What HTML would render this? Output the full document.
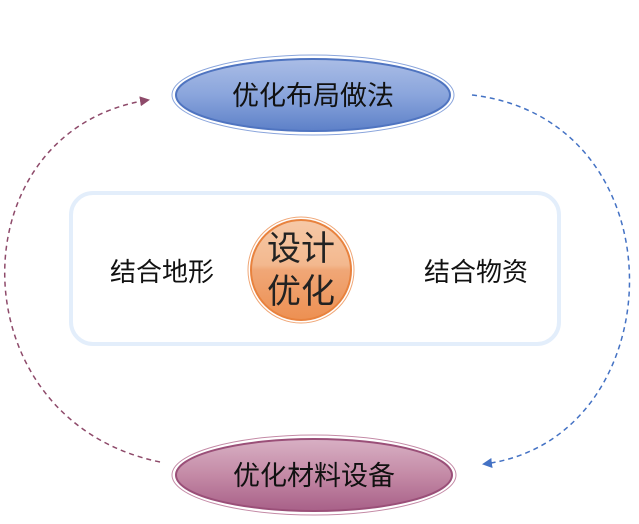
<!DOCTYPE html>
<html><head><meta charset="utf-8"><style>
body{margin:0;background:#fff;}
svg{display:block}
text{font-family:"Liberation Sans","Noto Sans CJK SC",sans-serif;}
</style></head><body>
<svg width="639" height="524" viewBox="0 0 639 524">
<defs>
<linearGradient id="gb" x1="0" y1="0" x2="0" y2="1">
<stop offset="0" stop-color="#aabde6"/><stop offset="0.5" stop-color="#8aa5dc"/><stop offset="1" stop-color="#5d80c8"/></linearGradient>
<linearGradient id="gp" x1="0" y1="0" x2="0" y2="1">
<stop offset="0" stop-color="#d8b0c4"/><stop offset="0.5" stop-color="#c48aa6"/><stop offset="1" stop-color="#a86088"/></linearGradient>
<linearGradient id="go" x1="0" y1="0" x2="0" y2="1">
<stop offset="0" stop-color="#f6c9a8"/><stop offset="0.45" stop-color="#f3b88e"/><stop offset="0.5" stop-color="#f0a777"/><stop offset="1" stop-color="#ed9052"/></linearGradient>
<marker id="ap" markerWidth="10" markerHeight="10" refX="8" refY="5" orient="auto" markerUnits="userSpaceOnUse"><path d="M0,0 L10,5 L0,10 z" fill="#8e4a6a"/></marker>
<marker id="ab" markerWidth="10" markerHeight="10" refX="8" refY="5" orient="auto" markerUnits="userSpaceOnUse"><path d="M0,0 L10,5 L0,10 z" fill="#4472c4"/></marker>
</defs>
<rect x="71" y="193" width="488" height="151" rx="22" fill="#fff" stroke="#e3eefb" stroke-width="4"/>
<path d="M160,462 C-45,420 -45,130 148,100" fill="none" stroke="#8e4a6a" stroke-width="1.5" stroke-dasharray="5,4" marker-end="url(#ap)"/>
<path d="M472,95 C685,120 675,440 484,464" fill="none" stroke="#4472c4" stroke-width="1.5" stroke-dasharray="5,4" marker-end="url(#ab)"/>
<ellipse cx="313" cy="95" rx="141" ry="40" fill="#fff" stroke="#8aa5dc" stroke-width="1"/>
<ellipse cx="313" cy="95" rx="137" ry="36" fill="url(#gb)" stroke="#4f74c0" stroke-width="2"/>
<text x="313" y="105" font-size="27" text-anchor="middle" fill="#111">优化布局做法</text>
<ellipse cx="314" cy="475" rx="142" ry="40" fill="#fff" stroke="#c48aa6" stroke-width="1"/>
<ellipse cx="314" cy="475" rx="138" ry="36" fill="url(#gp)" stroke="#9a4f78" stroke-width="2"/>
<text x="314" y="485" font-size="27" text-anchor="middle" fill="#111">优化材料设备</text>
<circle cx="301" cy="270" r="53" fill="#fff" stroke="#f0a777" stroke-width="1"/>
<circle cx="301" cy="270" r="50" fill="url(#go)" stroke="#e8823e" stroke-width="2"/>
<text x="301" y="260" font-size="34" text-anchor="middle" fill="#222">设计</text>
<text x="301" y="303" font-size="34" text-anchor="middle" fill="#222">优化</text>
<text x="162" y="281" font-size="26" text-anchor="middle" fill="#111">结合地形</text>
<text x="476" y="281" font-size="26" text-anchor="middle" fill="#111">结合物资</text>
</svg>
</body></html>
